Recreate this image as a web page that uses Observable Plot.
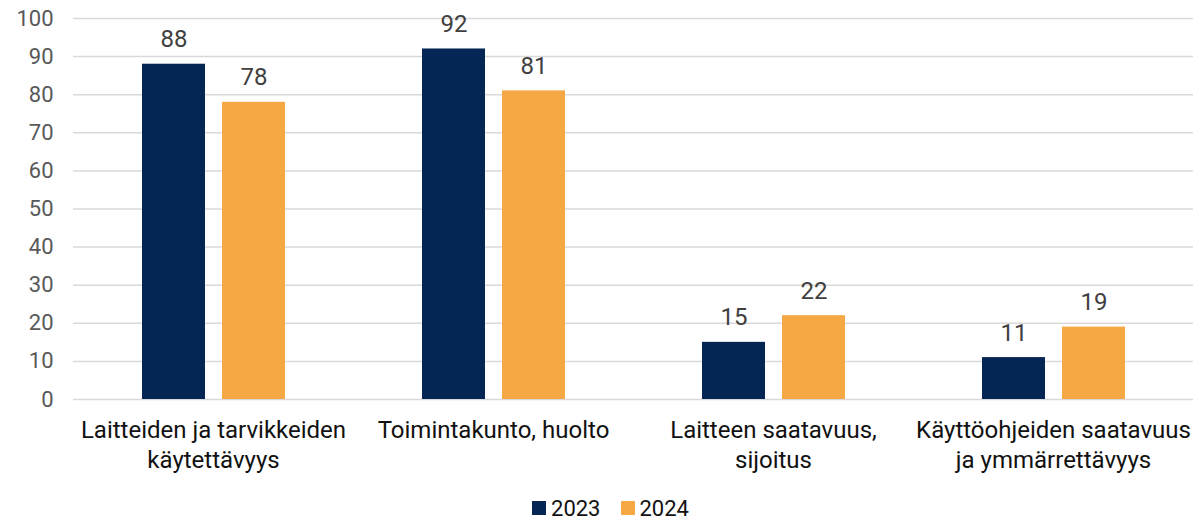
<!DOCTYPE html>
<html>
<head>
<meta charset="utf-8">
<script src="https://cdn.jsdelivr.net/npm/d3@7"></script>
<script src="https://cdn.jsdelivr.net/npm/@observablehq/plot@0.6"></script>
<style>
  body { margin: 0; background: #fff; font-family: Roboto, sans-serif; }
  #chart svg { display: block; }
  .legend { display: flex; justify-content: center; align-items: center; height: 32px; padding-left: 27px; padding-top: 4px; box-sizing: border-box; font-size: 22px; color: #111; }
  .legend .item { display: flex; align-items: center; margin: 0 10px; }
  .legend .sw { width: 14px; height: 14px; margin-right: 5px; }
</style>
</head>
<body>
<div id="chart"></div>
<script>
const categories = [
  "Laitteiden ja tarvikkeiden\nkäytettävyys",
  "Toimintakunto, huolto",
  "Laitteen saatavuus,\nsijoitus",
  "Käyttöohjeiden saatavuus\nja ymmärrettävyys"
];
const years = ["2023", "2024"];
const values2023 = [88, 92, 15, 11];
const values2024 = [78, 81, 22, 19];
const yTicks = [0, 10, 20, 30, 40, 50, 60, 70, 80, 90, 100];
const colors = ["#052555", "#F5A843"];

const data = [];
categories.forEach((c, i) => {
  data.push({category: c, year: years[0], value: values2023[i]});
  data.push({category: c, year: years[1], value: values2024[i]});
});

const chart = Plot.plot({
  width: 1194,
  height: 490,
  marginLeft: 72,
  marginRight: 0,
  marginTop: 18,
  marginBottom: 91,
  style: {fontFamily: "Roboto, sans-serif", fontSize: "22px", background: "#fff"},
  fx: {domain: categories, padding: 0, label: null},
  x: {domain: years, axis: null, paddingInner: 0.2125, paddingOuter: 0.856},
  y: {domain: [0, 100], label: null},
  color: {domain: years, range: colors},
  marks: [
    Plot.ruleY(yTicks, {stroke: "#d9d9d9", strokeWidth: 1.5}),
    Plot.barY(data, {fx: "category", x: "year", y: "value", fill: "year"}),
    Plot.text(data, {fx: "category", x: "year", y: "value", text: d => String(d.value), dy: -17, lineAnchor: "bottom", fill: "#404040", fontSize: 24}),
    Plot.axisY({ticks: yTicks, tickSize: 0, tickPadding: 20, fill: "#595959", fontSize: 22, label: null}),
    Plot.axisFx({anchor: "bottom", tickSize: 0, tickPadding: 17, lineHeight: 1.25, fill: "#111", fontSize: 24, label: null})
  ]
});
document.getElementById("chart").appendChild(chart);

const legend = document.createElement("div");
legend.className = "legend";
years.forEach((y, i) => {
  const item = document.createElement("div");
  item.className = "item";
  const sw = document.createElement("span");
  sw.className = "sw";
  sw.style.background = colors[i];
  const t = document.createElement("span");
  t.textContent = y;
  item.appendChild(sw);
  item.appendChild(t);
  legend.appendChild(item);
});
document.body.appendChild(legend);
</script>
</body>
</html>
